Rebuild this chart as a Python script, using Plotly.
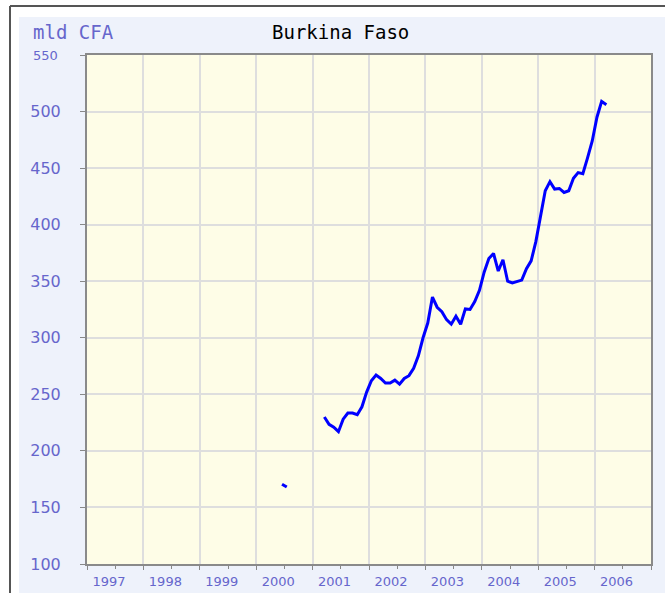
import plotly.graph_objects as go

# Monthly series, mld CFA
early_year = 2000
early_months = [6, 7]
early_values = [170.5, 168]

main_start_year = 2001
main_start_month = 3
main_values = [
    230, 223.5, 221, 217, 228, 233.5, 233.5, 232, 239, 252,
    262, 267, 264, 260, 260, 262.5, 259, 264, 266.5, 273,
    284, 300, 313, 336, 327, 323, 316, 312, 319, 312,
    325.5, 325, 332, 342, 358, 370, 374.5, 359, 369, 350,
    348.5, 350, 351, 361, 368, 385, 408, 430, 438, 431.5,
    432, 428.5, 430, 441, 446, 445, 459, 474, 495, 509,
    506,
]

years = list(range(1997, 2008))
year_labels = [str(y) for y in years[:-1]] + [""]
y_ticks = [100, 150, 200, 250, 300, 350, 400, 450, 500, 550]
y_labels = [str(v) for v in y_ticks[:-1]] + [""]

TICK_COLOR = "#6666CC"
LINE_BLUE = "#0000FF"


def month_pos(year, month):
    return year + (month - 0.5) / 12.0


early_x = [month_pos(early_year, m) for m in early_months]
main_x = []
for i in range(len(main_values)):
    m0 = main_start_month - 1 + i
    main_x.append(month_pos(main_start_year + m0 // 12, m0 % 12 + 1))

xs = early_x + [None] + main_x
ys = early_values + [None] + main_values

fig = go.Figure()
fig.add_trace(go.Scatter(
    x=xs, y=ys, mode="lines", connectgaps=False,
    line=dict(color=LINE_BLUE, width=3), hoverinfo="skip",
))

W, H = 665, 593
L, R, T, B = 87, 14, 55, 29
pw, ph = W - L - R, H - T - B


def px_x(p):
    return (p - L) / pw


def px_y(p):
    return 1 - (p - T) / ph


shapes = [
    # white margin strips and the dark frame lines of the panel
    dict(type="rect", xref="paper", yref="paper", x0=px_x(0), x1=px_x(19),
         y0=px_y(H), y1=px_y(0), fillcolor="white", line=dict(width=0)),
    dict(type="rect", xref="paper", yref="paper", x0=px_x(0), x1=px_x(W),
         y0=px_y(17), y1=px_y(0), fillcolor="white", line=dict(width=0)),
    dict(type="line", xref="paper", yref="paper", x0=px_x(10), x1=px_x(10),
         y0=px_y(H), y1=px_y(6), line=dict(color="#555555", width=2)),
    dict(type="line", xref="paper", yref="paper", x0=px_x(10), x1=px_x(W),
         y0=px_y(6), y1=px_y(6), line=dict(color="#555555", width=2)),
]

annotations = [
    dict(text="Burkina Faso", xref="paper", yref="paper", x=px_x(340), y=px_y(32),
         xanchor="center", yanchor="middle", showarrow=False,
         font=dict(family="DejaVu Sans Mono", size=19, color="#000000")),
    dict(text="mld CFA", xref="paper", yref="paper", x=px_x(31), y=px_y(32),
         xanchor="left", yanchor="middle", showarrow=False,
         font=dict(family="DejaVu Sans Mono", size=19, color=TICK_COLOR)),
    dict(text="550", xref="paper", yref="y", x=px_x(31), y=550,
         xanchor="left", yanchor="middle", showarrow=False,
         font=dict(family="DejaVu Sans", size=13, color=TICK_COLOR)),
]

fig.update_layout(
    width=W, height=H,
    margin=dict(l=L, r=R, t=T, b=B, pad=0, autoexpand=False),
    paper_bgcolor="#EEF2FB",
    plot_bgcolor="#FEFDE7",
    showlegend=False,
    shapes=shapes,
    annotations=annotations,
    xaxis=dict(
        range=[1997, 2007], tickmode="array", tickvals=years, ticktext=year_labels,
        ticks="outside", ticklen=4, tickwidth=1, tickcolor="#888888",
        ticklabelshift=22, ticklabelstandoff=0, automargin=False,
        tickfont=dict(family="DejaVu Sans", size=13, color=TICK_COLOR),
        showgrid=True, gridcolor="#DEDEDE", gridwidth=2,
        showline=True, linecolor="#8A8A8A", linewidth=2, mirror=True,
        zeroline=False, fixedrange=True,
        minor=dict(tickmode="linear", tick0=1997.5, dtick=1, ticks="outside",
                   ticklen=3, tickcolor="#888888", showgrid=False),
    ),
    yaxis=dict(
        range=[100, 550], tickmode="array", tickvals=y_ticks, ticktext=y_labels,
        ticks="outside", ticklen=5, tickwidth=1, tickcolor="#888888",
        ticklabelstandoff=16, automargin=False,
        tickfont=dict(family="DejaVu Sans", size=16, color=TICK_COLOR),
        showgrid=True, gridcolor="#DEDEDE", gridwidth=2,
        showline=True, linecolor="#8A8A8A", linewidth=2, mirror=True,
        zeroline=False, fixedrange=True,
    ),
)

fig.write_html("out.html", config={"displayModeBar": False})
